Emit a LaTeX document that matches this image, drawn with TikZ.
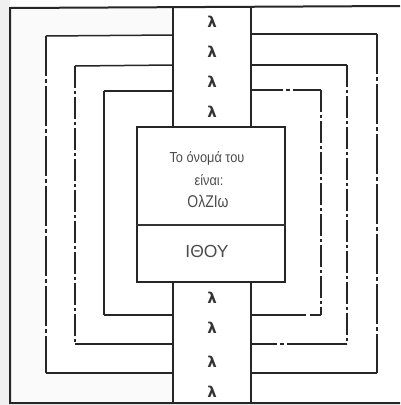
\documentclass[tikz,border=0pt]{standalone}
\usepackage{fontspec}
\setmainfont{Liberation Sans}
\newfontfamily\lamfont{DejaVu Sans}
\begin{document}
\begin{tikzpicture}[x=1pt,y=-1pt,
  ln/.style={line width=1.5pt,black!85},
  thin/.style={line width=1.1pt,black!80},
  dashA/.style={ln,dash pattern=on 40pt off 3pt on 4pt off 3pt},
  dashB/.style={ln,dash pattern=on 22pt off 3pt on 3pt off 3pt},
  lam/.style={font=\lamfont\bfseries\fontsize{15}{15}\selectfont,text=black!80,inner sep=0pt},
  txt/.style={text=black!70,inner sep=0pt,align=center}]
\useasboundingbox (0,0) rectangle (400,405);
\fill[white] (0,0) rectangle (400,405);
\fill[gray!12] (0,0) rectangle (10,405);
\fill[blue!2!gray!4] (10,7) rectangle (173,403);
\fill[white] (46,35) rectangle (173,373);
% outer frame
\draw[ln,line width=2pt] (400,6) -- (10,8) -- (10,403) -- (400,403);
% strip
\coordinate (sLt) at (173,7); \coordinate (sRt) at (251,7);
\coordinate (sLb) at (173,403); \coordinate (sRb) at (251,403);
\node[draw=black!85,line width=1.5pt,minimum width=148pt,minimum height=155pt,inner sep=0pt,fill=white] (box) at (211,204.5) {};
\draw[thin] (box.west |- 0,225) -- (box.east |- 0,225);
\draw[ln] (sLt) -- (box.north -| sLt);
\draw[ln] (sRt) -- (box.north -| sRt);
\draw[ln] (box.south -| sLb) -- (sLb);
\draw[ln] (box.south -| sRb) -- (sRb);
% frame 1
\draw[ln] (173,35) -- (46,36);
\draw[dashA] (46,36) -- (46,373);
\draw[ln] (46,373) -- (173,373);
\draw[ln] (251,34) -- (377,34);
\draw[dashA] (377,34) -- (377,373);
\draw[ln] (377,373) -- (251,373);
% frame 2
\draw[ln] (173,65) -- (75,66);
\draw[dashB] (75,66) -- (75,344);
\draw[ln] (75,344) -- (173,344);
\draw[ln] (251,65) -- (347,65);
\draw[dashB] (347,65) -- (347,344);
\draw[ln,dash pattern=on 60pt off 3pt on 4pt off 3pt] (347,344) -- (251,344);
% frame 3
\draw[ln] (173,91) -- (104,91);
\draw[ln] (104,91) -- (104,315);
\draw[ln] (104,315) -- (173,315);
\draw[ln,dash pattern=on 32pt off 3pt on 4pt off 3pt] (251,90) -- (321,90);
\draw[dashB] (321,90) -- (321,315);
\draw[ln,dash pattern=on 55pt off 4pt] (251,315) -- (321,315);
% lambdas
\foreach \i/\y in {1/22,2/52,3/82,4/112,5/298,6/328,7/362,8/392}
  \node[lam] (l\i) at (212,\y) {λ};
% texts
\node[txt,font=\fontsize{14.5}{14.5}\selectfont] (t1) at (207,158) {\scalebox{0.88}[1]{Το όνομά του}};
\node[txt,font=\fontsize{14.5}{14.5}\selectfont] (t2) at (209,180) {\scalebox{0.88}[1]{είναι:}};
\node[txt,font=\fontsize{17}{17}\selectfont] (t3) at (208,201) {\scalebox{0.82}[1]{ΟλΖΙω}};
\node[txt,font=\fontsize{17.5}{17.5}\selectfont] (t4) at (207,251) {ΙΘΟΥ};
\end{tikzpicture}
\end{document}
